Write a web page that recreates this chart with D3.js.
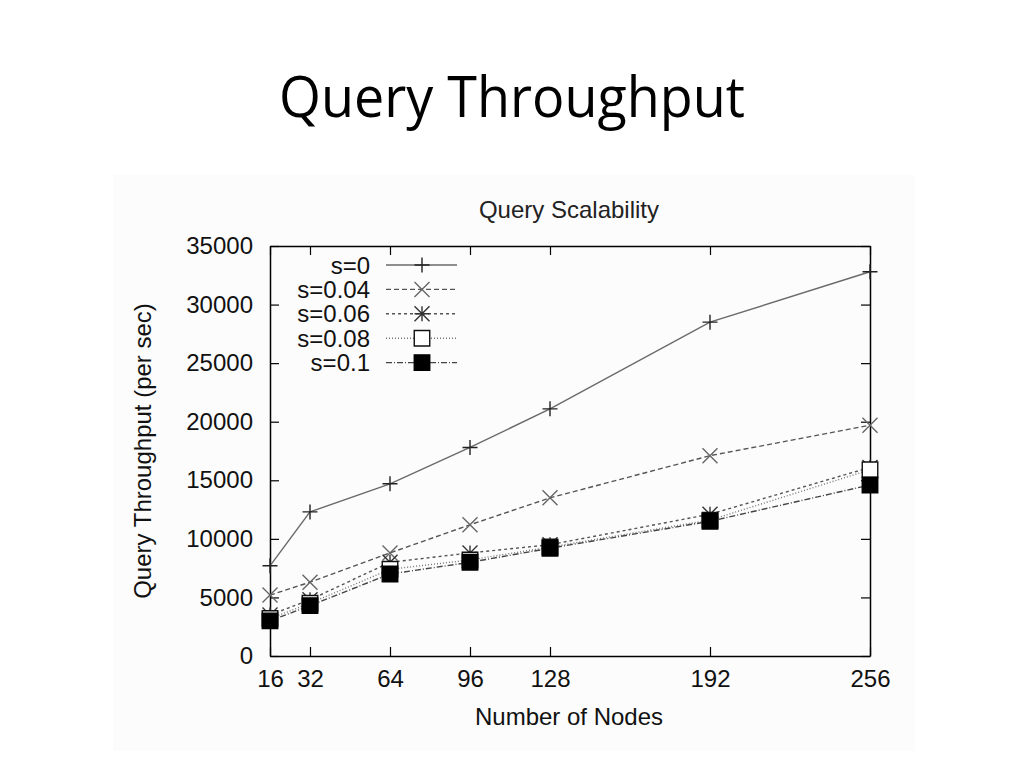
<!DOCTYPE html>
<html>
<head>
<meta charset="utf-8">
<script src="https://cdn.jsdelivr.net/npm/d3@7"></script>
<style>
html,body{margin:0;padding:0;background:#fff;}
svg{display:block;}
</style>
</head>
<body>
<svg id="chart" width="1024" height="768"></svg>
<script>
// ---- data ----
const nodes = [16, 32, 64, 96, 128, 192, 256];
const xTicks = [16, 32, 64, 96, 128, 192, 256];
const yTicks = [0, 5000, 10000, 15000, 20000, 25000, 30000, 35000];
const seriesNames = ["s=0", "s=0.04", "s=0.06", "s=0.08", "s=0.1"];
const s0   = [7700, 12300, 14700, 17800, 21100, 28500, 32800];
const s004 = [5200, 6300, 8800, 11200, 13500, 17100, 19700];
const s006 = [3500, 4800, 8000, 8800, 9500, 12100, 16100];
const s008 = [3200, 4500, 7400, 8200, 9300, 11600, 15900];
const s01  = [3000, 4300, 7000, 8000, 9200, 11500, 14600];
const seriesValues = [s0, s004, s006, s008, s01];

const slideTitle = "Query Throughput";
const chartTitle = "Query Scalability";
const xLabel = "Number of Nodes";
const yLabel = "Query Throughput (per sec)";

(function(){
// ---- styles ----
const styles = [
  {dash: null,        stroke: "#6a6a6a", marker: "plus",     mstroke: "#222"},
  {dash: "5,3",       stroke: "#555",    marker: "times",    mstroke: "#666"},
  {dash: "3,3",       stroke: "#555",    marker: "asterisk", mstroke: "#333"},
  {dash: "1,2",       stroke: "#777",    marker: "square",   mstroke: "#111"},
  {dash: "6,2,1,2",   stroke: "#444",    marker: "fsquare",  mstroke: "#000"}
];

const svg = d3.select("#chart");
const font = "'Liberation Sans', Arial, sans-serif";
const fs = 24;

// slide title
svg.append("text")
  .attr("x", 512).attr("y", 117)
  .attr("text-anchor", "middle")
  .attr("font-family", "'Open Sans', 'Noto Sans', sans-serif")
  .attr("font-size", 56)
  .attr("textLength", 466)
  .attr("lengthAdjust", "spacingAndGlyphs")
  .attr("fill", "#000")
  .text(slideTitle);

// chart image background
svg.append("rect")
  .attr("x", 113).attr("y", 175).attr("width", 802).attr("height", 576)
  .attr("fill", "#fcfcfc");

const mLeft = 270, mRight = 870, mTop = 246, mBottom = 656;
const x = d3.scaleLinear().domain([16, 256]).range([mLeft, mRight]);
const y = d3.scaleLinear().domain([0, 35000]).range([mBottom, mTop]);

// chart title
svg.append("text")
  .attr("x", 569).attr("y", 218)
  .attr("text-anchor", "middle")
  .attr("font-family", font).attr("font-size", fs)
  .attr("fill", "#222")
  .text(chartTitle);

// axes
function styleAxis(g) {
  g.selectAll("path.domain").attr("stroke", "#000").attr("stroke-width", 1.5);
  g.selectAll(".tick line").attr("stroke", "#000").attr("stroke-width", 1.2);
  g.selectAll(".tick text").attr("font-family", font).attr("font-size", fs).attr("fill", "#111");
}
const gx = svg.append("g").attr("transform", `translate(0,${mBottom})`)
  .call(d3.axisBottom(x).tickValues(xTicks).tickSize(-9).tickSizeOuter(0).tickPadding(14).tickFormat(d3.format("d")));
styleAxis(gx);
const gy = svg.append("g").attr("transform", `translate(${mLeft},0)`)
  .call(d3.axisLeft(y).tickValues(yTicks).tickSize(-9).tickSizeOuter(0).tickPadding(17).tickFormat(d3.format("d")));
styleAxis(gy);
const gxt = svg.append("g").attr("transform", `translate(0,${mTop})`)
  .call(d3.axisTop(x).tickValues(xTicks).tickSize(-9).tickSizeOuter(0).tickFormat(""));
styleAxis(gxt);
const gyr = svg.append("g").attr("transform", `translate(${mRight},0)`)
  .call(d3.axisRight(y).tickValues(yTicks).tickSize(-9).tickSizeOuter(0).tickFormat(""));
styleAxis(gyr);

// axis labels
svg.append("text")
  .attr("x", 569).attr("y", 725)
  .attr("text-anchor", "middle")
  .attr("font-family", font).attr("font-size", fs)
  .attr("fill", "#111")
  .text(xLabel);
svg.append("text")
  .attr("transform", "translate(151,451) rotate(-90)")
  .attr("text-anchor", "middle")
  .attr("font-family", font).attr("font-size", fs)
  .attr("fill", "#111")
  .text(yLabel);

// marker symbol types
const symPlus = {draw(c, size){const r = Math.sqrt(size)/2; c.moveTo(-r,0); c.lineTo(r,0); c.moveTo(0,-r); c.lineTo(0,r);}};
const symTimes = {draw(c, size){const r = Math.sqrt(size)/2; c.moveTo(-r,-r); c.lineTo(r,r); c.moveTo(-r,r); c.lineTo(r,-r);}};
const symAst = {draw(c, size){const r = Math.sqrt(size)/2; c.moveTo(-r,0); c.lineTo(r,0); c.moveTo(0,-r); c.lineTo(0,r); c.moveTo(-r,-r); c.lineTo(r,r); c.moveTo(-r,r); c.lineTo(r,-r);}};
const symSq = {draw(c, size){const r = Math.sqrt(size)/2; c.moveTo(-r,-r); c.lineTo(r,-r); c.lineTo(r,r); c.lineTo(-r,r); c.closePath();}};
const symTypes = {plus: symPlus, times: symTimes, asterisk: symAst, square: symSq, fsquare: symSq};
const symSizes = {plus: 225, times: 225, asterisk: 225, square: 240, fsquare: 240};

function drawMarker(g, type, st, cx, cy) {
  g.append("path")
    .attr("transform", `translate(${cx},${cy})`)
    .attr("d", d3.symbol().type(symTypes[type]).size(symSizes[type])())
    .attr("fill", type === "fsquare" ? "#000" : (type === "square" ? "#fff" : "none"))
    .attr("stroke", st.mstroke)
    .attr("stroke-width", 1.4);
}

const line = d3.line().x((d, i) => x(nodes[i])).y(d => y(d));
const plot = svg.append("g");
seriesValues.forEach((vals, si) => {
  const st = styles[si];
  const g = plot.append("g");
  g.append("path")
    .attr("d", line(vals))
    .attr("fill", "none")
    .attr("stroke", st.stroke)
    .attr("stroke-width", 1.4)
    .attr("stroke-dasharray", st.dash);
  vals.forEach((v, i) => drawMarker(g, st.marker, st, x(nodes[i]), y(v)));
});

// legend
const legend = svg.append("g");
seriesNames.forEach((name, si) => {
  const st = styles[si];
  const ly = 265 + si * 24.4;
  legend.append("text")
    .attr("x", 370).attr("y", ly)
    .attr("dy", "0.36em")
    .attr("text-anchor", "end")
    .attr("font-family", font).attr("font-size", fs)
    .attr("fill", "#111")
    .text(name);
  legend.append("line")
    .attr("x1", 386).attr("x2", 457).attr("y1", ly).attr("y2", ly)
    .attr("stroke", st.stroke).attr("stroke-width", 1.4)
    .attr("stroke-dasharray", st.dash);
  drawMarker(legend, st.marker, st, 422, ly);
});
})();
</script>
</body>
</html>
